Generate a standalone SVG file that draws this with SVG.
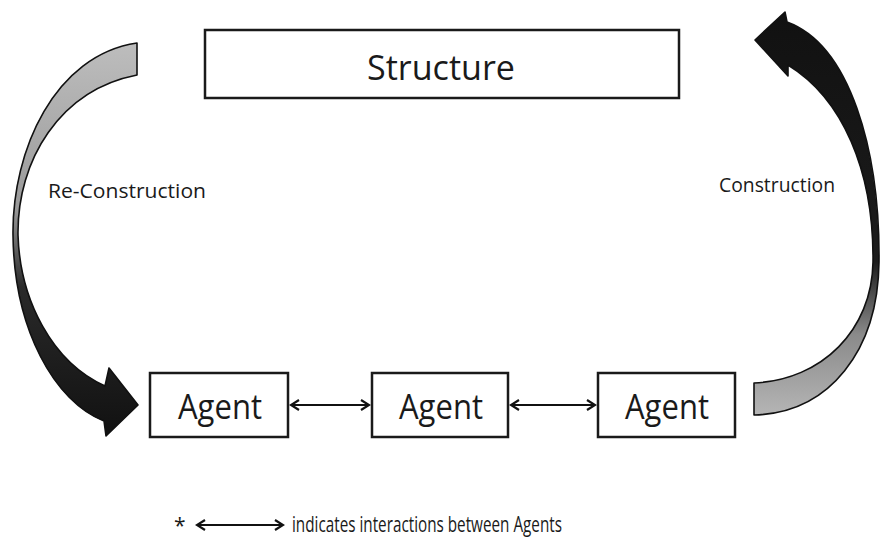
<svg xmlns="http://www.w3.org/2000/svg" width="880" height="541" viewBox="0 0 880 541">
<style>
.box{fill:#fff;stroke:#1a1a1a;stroke-width:2.5}
.t{font-family:"Open Sans","Liberation Sans",sans-serif;fill:#1a1a1a}
.big{font-size:34px}
.lab{font-size:20px}
.leg{font-size:21px}
.conn{stroke:#111;stroke-width:2;fill:none}
.curve{stroke:#111;stroke-width:1.6;stroke-linejoin:round}
</style>
<defs>
<linearGradient id="gL" x1="0" y1="0" x2="0" y2="1">
<stop offset="0" stop-color="#bdbdbd"/>
<stop offset="0.42" stop-color="#9a9a9a"/>
<stop offset="0.62" stop-color="#2a2a2a"/>
<stop offset="1" stop-color="#111"/>
</linearGradient>
<linearGradient id="gR" x1="0" y1="0" x2="0" y2="1">
<stop offset="0" stop-color="#111"/>
<stop offset="0.62" stop-color="#1c1c1c"/>
<stop offset="0.8" stop-color="#8a8a8a"/>
<stop offset="1" stop-color="#b5b5b5"/>
</linearGradient>
<marker id="ah" viewBox="-10 -7 12 14" refX="0" refY="0" markerWidth="12" markerHeight="14" markerUnits="userSpaceOnUse" orient="auto-start-reverse">
<path d="M-8,-5 L0,0 L-8,5" fill="none" stroke="#111" stroke-width="2.2"/>
</marker>
</defs>

<g id="structure">
<rect class="box" x="205" y="30" width="474" height="68"/>
<text class="t big" x="441" y="80" text-anchor="middle" textLength="148" lengthAdjust="spacingAndGlyphs">Structure</text>
</g>

<g id="agent1">
<rect class="box" x="150" y="373" width="138" height="64"/>
<text class="t big" x="220" y="419" text-anchor="middle" textLength="84" lengthAdjust="spacingAndGlyphs">Agent</text>
</g>
<g id="agent2">
<rect class="box" x="372" y="373" width="136" height="64"/>
<text class="t big" x="441" y="419" text-anchor="middle" textLength="84" lengthAdjust="spacingAndGlyphs">Agent</text>
</g>
<g id="agent3">
<rect class="box" x="598" y="373" width="137" height="64"/>
<text class="t big" x="667" y="419" text-anchor="middle" textLength="84" lengthAdjust="spacingAndGlyphs">Agent</text>
</g>

<g id="connectors">
<line class="conn" x1="291" y1="405" x2="369" y2="405" marker-start="url(#ah)" marker-end="url(#ah)"/>
<line class="conn" x1="511" y1="405" x2="595" y2="405" marker-start="url(#ah)" marker-end="url(#ah)"/>
<path id="reconstruction-arrow" class="curve" fill="url(#gL)" d="M137,43 C55,55 12,150 13,235 C14,330 55,402 104,421 L106,436 L138,405 L109,368 L105,386 C52,362 20,300 18,235 C17,160 60,90 137,75 Z"/>
<path id="construction-arrow" class="curve" fill="url(#gR)" d="M754,383 C822,380 872,330 873,262 C874,170 842,98 788,65 L788,76 L755,40 L785,12 L787,22 C850,45 880,150 879,262 C878,350 830,413 754,415 Z"/>
</g>

<g id="labels">
<text class="t lab" x="48" y="198" textLength="158" lengthAdjust="spacingAndGlyphs">Re-Construction</text>
<text class="t lab" x="719" y="192" textLength="116" lengthAdjust="spacingAndGlyphs">Construction</text>
</g>

<g id="legend">
<text class="t leg" x="174" y="533">*</text>
<line class="conn" x1="197" y1="525" x2="283" y2="525" marker-start="url(#ah)" marker-end="url(#ah)"/>
<text class="t leg" x="292" y="532" textLength="270" lengthAdjust="spacingAndGlyphs">indicates interactions between Agents</text>
</g>
</svg>
